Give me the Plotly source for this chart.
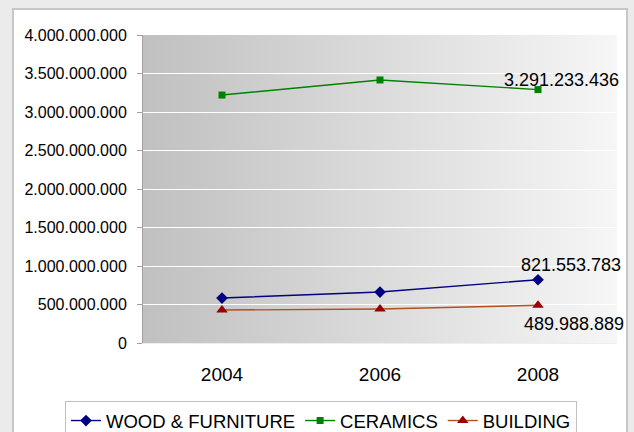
import base64
import plotly.graph_objects as go

years = ["2004", "2006", "2008"]
wood = [584000000, 662000000, 821553783]
ceramics = [3220000000, 3416000000, 3291233436]
building = [428000000, 441000000, 489988889]
label_text = ["3.291.233.436", "821.553.783", "489.988.889"]

W, H = 634, 432
L, R, T, B = 143, 17, 35, 89
PW, PH = W - L - R, H - T - B


def px_x(px):
    return (px - L) / PW


def px_y(py):
    return (H - B - py) / PH


def svg_uri(svg):
    return "data:image/svg+xml;base64," + base64.b64encode(svg.encode()).decode()


grad_svg = (
    "<svg xmlns='http://www.w3.org/2000/svg' width='200' height='100' viewBox='0 0 200 100' preserveAspectRatio='none'>"
    "<defs><linearGradient id='g' x1='0' y1='0' x2='1' y2='0'>"
    "<stop offset='0' stop-color='#c0c0c0'/><stop offset='1' stop-color='#f6f6f6'/>"
    "</linearGradient></defs><rect width='200' height='100' fill='url(#g)'/></svg>"
)
white_svg = (
    "<svg xmlns='http://www.w3.org/2000/svg' width='100' height='100' viewBox='0 0 100 100' preserveAspectRatio='none'>"
    "<rect width='100' height='100' fill='#ffffff'/></svg>"
)

fig = go.Figure()
fig.add_trace(go.Scatter(
    x=years, y=wood, name="WOOD & FURNITURE", mode="lines+markers",
    line=dict(color="#000080", width=1.4),
    marker=dict(symbol="diamond", size=9, color="#000080"),
))
fig.add_trace(go.Scatter(
    x=years, y=ceramics, name="CERAMICS", mode="lines+markers",
    line=dict(color="#008000", width=1.4),
    marker=dict(symbol="square", size=7, color="#008000"),
))
fig.add_trace(go.Scatter(
    x=years, y=building, name="BUILDING", mode="lines+markers",
    line=dict(color="#b4501e", width=1.4),
    marker=dict(symbol="triangle-up", size=10, color="#990000"),
))

annots = [
    dict(val=ceramics[2], txt=label_text[0], xs=23, ys=10),
    dict(val=wood[2], txt=label_text[1], xs=33, ys=15),
    dict(val=building[2], txt=label_text[2], xs=36, ys=-19),
]
annotations = []
for a in annots:
    annotations.append(dict(
        x=2, y=a["val"], xref="x", yref="y", text=a["txt"], showarrow=False,
        xshift=a["xs"], yshift=a["ys"],
        font=dict(family="Liberation Sans, Arial, sans-serif", size=18, color="#000000"),
    ))

fig.update_layout(
    width=W, height=H,
    margin=dict(l=L, r=R, t=T, b=B, autoexpand=False),
    paper_bgcolor="#ebebeb",
    plot_bgcolor="rgba(0,0,0,0)",
    separators=",.",
    font=dict(family="Liberation Sans, Arial, sans-serif", color="#000000"),
    showlegend=True,
    annotations=annotations,
    legend=dict(
        orientation="h",
        x=px_x(65), xanchor="left", y=px_y(401), yanchor="top",
        bgcolor="#ffffff", bordercolor="#c0c0c0", borderwidth=1,
        font=dict(size=18.5), itemwidth=30, tracegroupgap=0,
    ),
    images=[
        dict(source=svg_uri(white_svg), xref="paper", yref="paper",
             x=px_x(13), y=px_y(9), sizex=px_x(627) - px_x(13), sizey=px_y(9) - px_y(445),
             xanchor="left", yanchor="top", sizing="stretch", layer="below"),
        dict(source=svg_uri(grad_svg), xref="paper", yref="paper",
             x=0, y=1, sizex=1, sizey=1,
             xanchor="left", yanchor="top", sizing="stretch", layer="below"),
    ],
    shapes=[
        dict(type="rect", xref="paper", yref="paper",
             x0=px_x(13), x1=px_x(627), y0=px_y(445), y1=px_y(9),
             line=dict(color="#c6c6c6", width=2), fillcolor="rgba(0,0,0,0)", layer="below"),
    ],
)

fig.update_xaxes(
    type="category", categoryorder="array", categoryarray=years,
    range=[-0.5, 2.5], showgrid=False, zeroline=False,
    showline=True, linecolor="#eeeeee", linewidth=1,
    ticks="", ticklabelstandoff=14,
    tickfont=dict(size=19),
)
fig.update_yaxes(
    range=[0, 4000000000], dtick=500000000, tickformat=",d",
    showgrid=True, gridcolor="#ffffff", gridwidth=1.2,
    zeroline=False, showline=True, linecolor="#a0a0a0", linewidth=1,
    ticks="outside", ticklen=5, tickcolor="#a0a0a0",
    ticklabelstandoff=7,
    tickfont=dict(size=16),
)

fig.write_html(
    "out.html",
    config={"displayModeBar": False},
    post_script="document.body.style.margin='0';document.body.style.overflow='hidden';",
)
